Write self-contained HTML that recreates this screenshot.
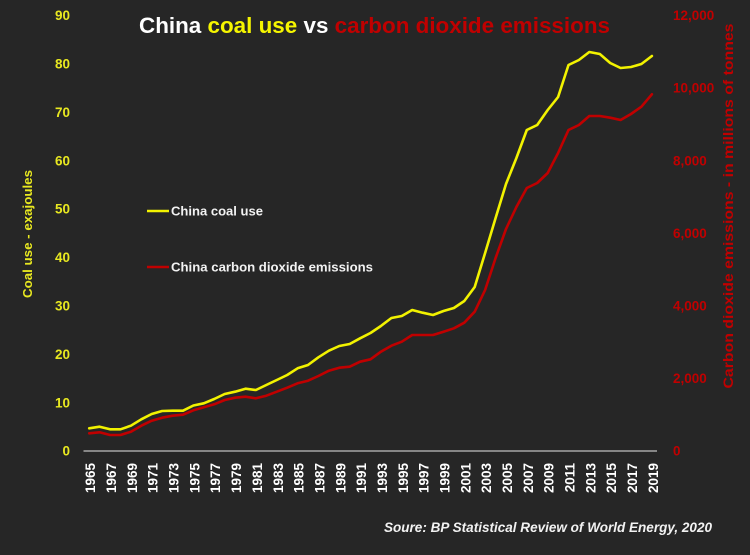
<!DOCTYPE html>
<html>
<head>
<meta charset="utf-8">
<style>
html,body{margin:0;padding:0;background:#262626;}
svg{display:block;}
text{font-family:"Liberation Sans",Arial,sans-serif;}
</style>
</head>
<body>
<svg width="750" height="555" viewBox="0 0 750 555" xmlns="http://www.w3.org/2000/svg">
<rect x="0" y="0" width="750" height="555" fill="#262626"/>

<!-- Title -->
<text x="139" y="33" font-size="22" font-weight="bold" textLength="471" lengthAdjust="spacingAndGlyphs"><tspan fill="#ffffff">China </tspan><tspan fill="#f5f500">coal use </tspan><tspan fill="#ffffff">vs </tspan><tspan fill="#c00000">carbon dioxide emissions</tspan></text>

<!-- Left axis tick labels -->
<g font-size="13.5" font-weight="bold" fill="#e8e820" text-anchor="end">
<text x="70" y="455.7">0</text>
<text x="70" y="407.3">10</text>
<text x="70" y="358.9">20</text>
<text x="70" y="310.5">30</text>
<text x="70" y="262.1">40</text>
<text x="70" y="213.7">50</text>
<text x="70" y="165.3">60</text>
<text x="70" y="116.9">70</text>
<text x="70" y="68.5">80</text>
<text x="70" y="20.1">90</text>
</g>

<!-- Right axis tick labels -->
<g font-size="13.5" font-weight="bold" fill="#c00000" text-anchor="start">
<text x="673" y="455.7">0</text>
<text x="673" y="383.1">2,000</text>
<text x="673" y="310.5">4,000</text>
<text x="673" y="237.9">6,000</text>
<text x="673" y="165.3">8,000</text>
<text x="673" y="92.7">10,000</text>
<text x="673" y="20.1">12,000</text>
</g>

<!-- Axis titles -->
<text transform="translate(32,234) rotate(-90)" text-anchor="middle" font-size="13" font-weight="bold" fill="#e8e820" textLength="128" lengthAdjust="spacingAndGlyphs">Coal use - exajoules</text>
<text transform="translate(733,206) rotate(-90)" text-anchor="middle" font-size="14" font-weight="bold" fill="#c00000" textLength="365" lengthAdjust="spacingAndGlyphs">Carbon dioxide emissions - in millions of tonnes</text>

<!-- X axis line -->
<line x1="83.5" y1="451" x2="657" y2="451" stroke="#bfbfbf" stroke-width="1.2"/>

<!-- X labels -->
<g font-size="13.5" font-weight="bold" fill="#ffffff" text-anchor="end">
<text transform="translate(95.2,463) rotate(-90)">1965</text>
<text transform="translate(116.0,463) rotate(-90)">1967</text>
<text transform="translate(136.9,463) rotate(-90)">1969</text>
<text transform="translate(157.7,463) rotate(-90)">1971</text>
<text transform="translate(178.6,463) rotate(-90)">1973</text>
<text transform="translate(199.4,463) rotate(-90)">1975</text>
<text transform="translate(220.2,463) rotate(-90)">1977</text>
<text transform="translate(241.1,463) rotate(-90)">1979</text>
<text transform="translate(261.9,463) rotate(-90)">1981</text>
<text transform="translate(282.8,463) rotate(-90)">1983</text>
<text transform="translate(303.6,463) rotate(-90)">1985</text>
<text transform="translate(324.4,463) rotate(-90)">1987</text>
<text transform="translate(345.3,463) rotate(-90)">1989</text>
<text transform="translate(366.1,463) rotate(-90)">1991</text>
<text transform="translate(386.9,463) rotate(-90)">1993</text>
<text transform="translate(407.8,463) rotate(-90)">1995</text>
<text transform="translate(428.6,463) rotate(-90)">1997</text>
<text transform="translate(449.5,463) rotate(-90)">1999</text>
<text transform="translate(470.3,463) rotate(-90)">2001</text>
<text transform="translate(491.1,463) rotate(-90)">2003</text>
<text transform="translate(512.0,463) rotate(-90)">2005</text>
<text transform="translate(532.8,463) rotate(-90)">2007</text>
<text transform="translate(553.7,463) rotate(-90)">2009</text>
<text transform="translate(574.5,463) rotate(-90)">2011</text>
<text transform="translate(595.3,463) rotate(-90)">2013</text>
<text transform="translate(616.2,463) rotate(-90)">2015</text>
<text transform="translate(637.0,463) rotate(-90)">2017</text>
<text transform="translate(657.9,463) rotate(-90)">2019</text>
</g>

<!-- Red series (CO2) -->
<polyline fill="none" stroke="#c00000" stroke-width="2.6" stroke-linejoin="round" stroke-linecap="round" points="
89.2,433.3 99.6,432.3 110.0,435 120.5,435 130.9,431.7 141.3,425.7 151.7,420.7 162.1,417.7 172.6,415.7 183.0,414.7
193.4,410.3 203.8,407.3 214.2,404.3 224.7,400 235.1,397.7 245.5,396.7 255.9,398.3 266.3,395.7 276.8,391.7 287.2,387.7
297.6,383.3 308.0,380.7 318.4,376 328.9,370.7 339.3,367.7 349.7,366.7 360.1,361.7 370.5,359.3 380.9,351.7 391.4,345.7
401.8,341.7 412.2,335 422.6,335 433.0,335 443.5,331.7 453.9,328.3 464.3,322.7 474.7,311.7 485.1,290 495.6,258
506.0,229 516.4,207 526.8,188 537.2,183 547.7,173 558.1,153 568.5,130 578.9,125 589.3,116 599.8,116
610.2,117.7 620.6,120 631.0,114 641.4,106.7 651.9,94.3"/>

<!-- Yellow series (coal) -->
<polyline fill="none" stroke="#f2f200" stroke-width="2.6" stroke-linejoin="round" stroke-linecap="round" points="
89.2,428.3 99.6,426.7 110.0,429.3 120.5,429.3 130.9,425.7 141.3,419.3 151.7,414 162.1,411 172.6,410.7 183.0,410.7
193.4,405.5 203.8,403.3 214.2,399 224.7,394 235.1,391.7 245.5,388.7 255.9,390 266.3,385 276.8,380 287.2,375
297.6,368.3 308.0,365 318.4,357.3 328.9,350.7 339.3,346 349.7,344 360.1,338.3 370.5,333 380.9,326 391.4,318
401.8,316 412.2,310 422.6,312.7 433.0,315 443.5,311 453.9,308 464.3,301 474.7,287 485.1,253 495.6,218
506.0,184 516.4,158 526.8,130 537.2,125 547.7,110 558.1,97 568.5,65 578.9,60 589.3,52 599.8,54
610.2,63 620.6,68 631.0,67 641.4,64 651.9,56"/>

<!-- Legend -->
<line x1="147" y1="211" x2="169" y2="211" stroke="#f2f200" stroke-width="2.6"/>
<text x="171" y="215.7" font-size="13" font-weight="bold" fill="#f2f2f2" textLength="92" lengthAdjust="spacingAndGlyphs">China coal use</text>
<line x1="147" y1="267" x2="169" y2="267" stroke="#c00000" stroke-width="2.6"/>
<text x="171" y="271.7" font-size="13" font-weight="bold" fill="#f2f2f2" textLength="202" lengthAdjust="spacingAndGlyphs">China carbon dioxide emissions</text>

<!-- Source -->
<text x="384" y="532" font-size="14" font-weight="bold" font-style="italic" fill="#f2f2f2" textLength="328" lengthAdjust="spacingAndGlyphs">Soure: BP Statistical Review of World Energy, 2020</text>
</svg>
</body>
</html>
